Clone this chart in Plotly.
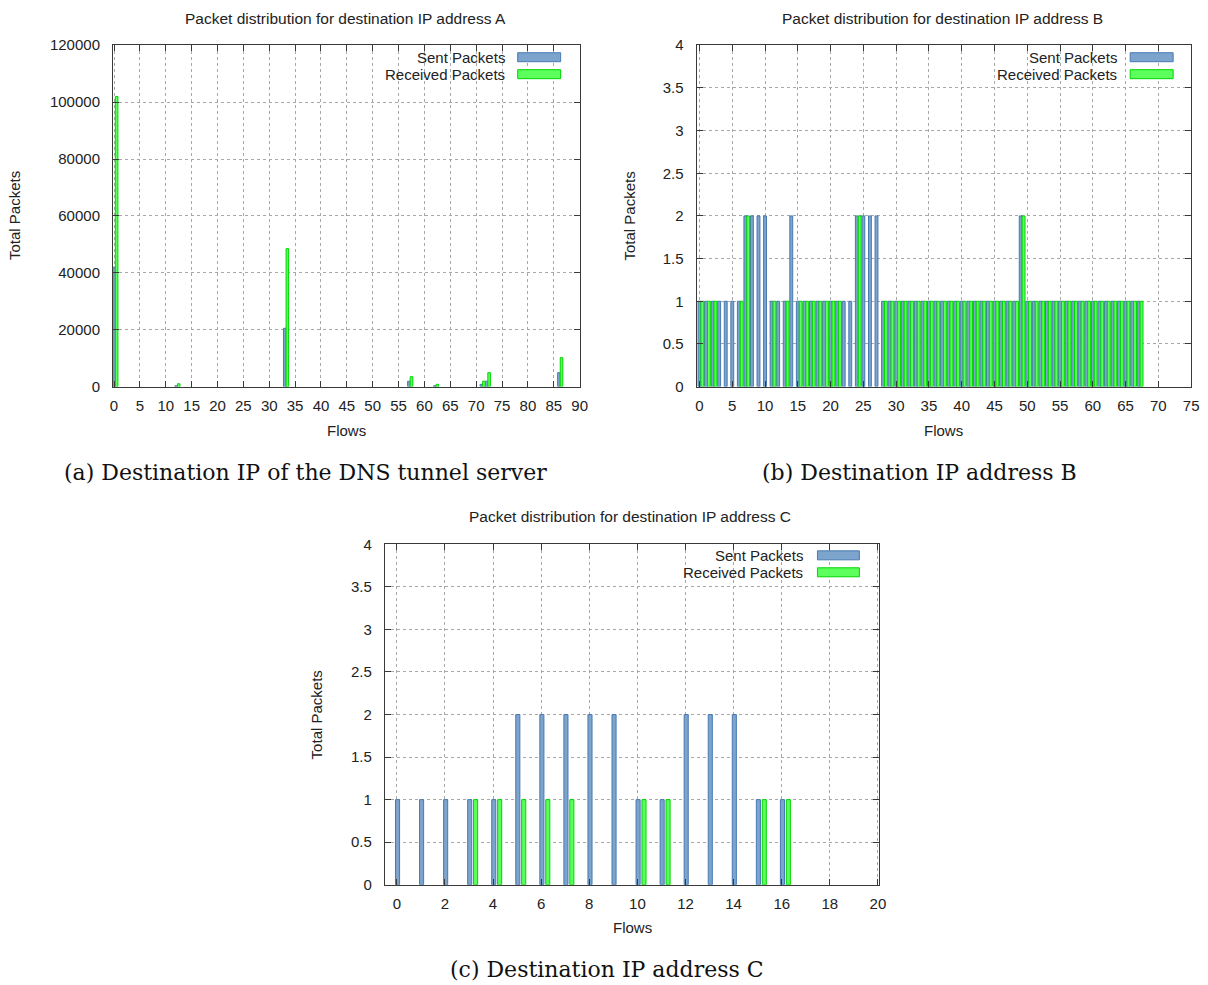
import plotly.graph_objects as go

W, H = 1208, 985

# Placement in window pixels; the page shows the figure slightly inset and
# scaled, so window positions are mapped back into figure pixels first.
SHIFT_X, SCALE_X = 2.9, 0.9917
SHIFT_Y, SCALE_Y = 7.7, 0.9845

# ---- Destination IP address A (DNS tunnel server): only flows with traffic ----
a_flows = [0, 12, 33, 57, 62, 71, 72, 86]
a_sent = [42000, 300, 20500, 1900, 300, 800, 1900, 4900]
a_recv = [102000, 1000, 48500, 3500, 800, 1900, 4900, 10200]

# ---- Destination IP address B: flows 0..67 ----
b_sent = [1, 1, 1, 1, 1, 1, 1, 2, 2, 2,
          2, 1, 1, 1, 2, 1, 1, 1, 1, 1,
          1, 1, 1, 1, 2, 2, 2, 2, 1, 1,
          1, 1, 1, 1, 1, 1, 1, 1, 1, 1,
          1, 1, 1, 1, 1, 1, 1, 1, 1, 2,
          1, 1, 1, 1, 1, 1, 1, 1, 1, 1,
          1, 1, 1, 1, 1, 1, 1, 1]
b_recv = [1, 1, 1, 0, 0, 0, 1, 2, 0, 0,
          0, 1, 0, 1, 0, 1, 1, 1, 1, 1,
          1, 1, 0, 0, 2, 0, 0, 0, 1, 1,
          1, 1, 1, 1, 1, 1, 1, 1, 1, 1,
          1, 1, 1, 1, 1, 1, 1, 1, 1, 2,
          1, 1, 1, 1, 1, 1, 1, 1, 1, 1,
          1, 1, 1, 1, 1, 1, 1, 1]
b_flows = list(range(len(b_sent)))

# ---- Destination IP address C: flows 0..16 ----
c_sent = [1, 1, 1, 1, 1, 2, 2, 2, 2, 2, 1, 1, 2, 2, 2, 1, 1]
c_recv = [0, 0, 0, 1, 1, 1, 1, 1, 0, 0, 1, 1, 0, 0, 0, 1, 1]
c_flows = list(range(len(c_sent)))

SENT_FILL, SENT_LINE = "rgb(124,164,204)", "rgb(72,122,178)"
RECV_FILL, RECV_LINE = "rgb(92,255,92)", "rgb(0,214,0)"
FRAME = "#3a3a3a"
GRID = "#a8a8a8"
TXT = "#222"
SANS = "Liberation Sans, Arial, sans-serif"
SERIF = "DejaVu Serif, Liberation Serif, serif"


def px(x):
    return (x - SHIFT_X) / SCALE_X / W


def py(y):
    return 1 - (y - SHIFT_Y) / SCALE_Y / H


def nz(vals):
    return [v if v else None for v in vals]


def label(text, x, y, size, family=SANS, xanchor="center", angle=0, color=TXT):
    return dict(text=text, x=px(x), y=py(y), xref="paper", yref="paper",
                xanchor=xanchor, yanchor="middle", textangle=angle, showarrow=False,
                font=dict(family=family, size=size, color=color))


panels = [
    dict(ax="", box=(113, 44, 580, 386), xr=[-0.2, 90.0], xt=list(range(0, 91, 5)),
         yr=[0, 120000], yt=list(range(0, 120001, 20000)),
         geo=(-0.25, 0.5, 0.25, 0.5), flows=a_flows, sent=a_sent, recv=a_recv,
         title="Packet distribution for destination IP address A", title_xy=(346, 17),
         ylab_x=15, xlab_y=430, legend=(507, 518, 561, 56),
         caption="(a) Destination IP of the DNS tunnel server", cap_xy=(306, 472)),
    dict(ax="2", box=(697, 44, 1192, 386), xr=[-0.45, 75.0], xt=list(range(0, 76, 5)),
         yr=[0, 4], yt=[0, 0.5, 1, 1.5, 2, 2.5, 3, 3.5, 4],
         geo=(-0.22, 0.44, 0.22, 0.44), flows=b_flows, sent=b_sent, recv=b_recv,
         title="Packet distribution for destination IP address B", title_xy=(943, 17),
         ylab_x=630, xlab_y=430, legend=(1120, 1131, 1174, 56),
         caption="(b) Destination IP address B", cap_xy=(920, 472)),
    dict(ax="3", box=(385, 544, 880, 885), xr=[-0.5, 20.06], xt=list(range(0, 21, 2)),
         yr=[0, 4], yt=[0, 0.5, 1, 1.5, 2, 2.5, 3, 3.5, 4],
         geo=(-0.055, 0.17, 0.19, 0.17), flows=c_flows, sent=c_sent, recv=c_recv,
         title="Packet distribution for destination IP address C", title_xy=(630, 516),
         ylab_x=317, xlab_y=928, legend=(806, 818, 860, 555),
         caption="(c) Destination IP address C", cap_xy=(607, 970)),
]

fig = go.Figure()
annotations = []
shapes = []
layout_axes = {}

for p in panels:
    xa, ya = "x" + p["ax"], "y" + p["ax"]
    so, sw, ro, rw = p["geo"]
    fig.add_trace(go.Bar(
        x=p["flows"], y=nz(p["sent"]), xaxis=xa, yaxis=ya, offset=so, width=sw,
        marker=dict(color=SENT_FILL, line=dict(color=SENT_LINE, width=1)),
        name="Sent Packets", showlegend=False))
    fig.add_trace(go.Bar(
        x=p["flows"], y=nz(p["recv"]), xaxis=xa, yaxis=ya, offset=ro, width=rw,
        marker=dict(color=RECV_FILL, line=dict(color=RECV_LINE, width=1)),
        name="Received Packets", showlegend=False))

    x0, y0, x1, y1 = p["box"]
    common = dict(showline=True, linecolor=FRAME, linewidth=1, mirror="allticks",
                  ticks="inside", ticklen=6, tickcolor=FRAME,
                  showgrid=True, gridcolor=GRID, griddash="dot", gridwidth=1,
                  zeroline=False, tickfont=dict(family=SANS, size=15, color=TXT))
    layout_axes["xaxis" + p["ax"]] = dict(
        common, domain=[px(x0), px(x1)], range=p["xr"], tickvals=p["xt"],
        anchor=ya, ticklabelstandoff=5)
    layout_axes["yaxis" + p["ax"]] = dict(
        common, domain=[py(y1), py(y0)], range=p["yr"], tickvals=p["yt"],
        tickformat="d" if p["yr"][1] > 10 else "", anchor=xa, ticklabelstandoff=9)

    tx, ty = p["title_xy"]
    annotations.append(label(p["title"], tx, ty, 15.5))
    annotations.append(label("Total Packets", p["ylab_x"], (y0 + y1) / 2, 15, angle=-90))
    annotations.append(label("Flows", (x0 + x1) / 2, p["xlab_y"], 15))
    cx, cy = p["cap_xy"]
    annotations.append(label(p["caption"], cx, cy, 22, family=SERIF, color="#111"))

    # key in the top-right corner of each panel
    tr, sx0, sx1, ly = p["legend"]
    for k, (name, fill, line) in enumerate([("Sent Packets", SENT_FILL, SENT_LINE),
                                            ("Received Packets", RECV_FILL, RECV_LINE)]):
        yy = ly + 17 * k
        annotations.append(label(name, tr, yy, 15, xanchor="right"))
        shapes.append(dict(type="rect", xref="paper", yref="paper",
                           x0=px(sx0), x1=px(sx1), y0=py(yy + 4.5), y1=py(yy - 4.5),
                           fillcolor=fill, line=dict(color=line, width=1)))

fig.update_layout(
    width=W, height=H, margin=dict(l=0, r=0, t=0, b=0),
    paper_bgcolor="white", plot_bgcolor="white",
    barmode="overlay", showlegend=False,
    annotations=annotations, shapes=shapes, **layout_axes)

fig.write_html("out.html")
